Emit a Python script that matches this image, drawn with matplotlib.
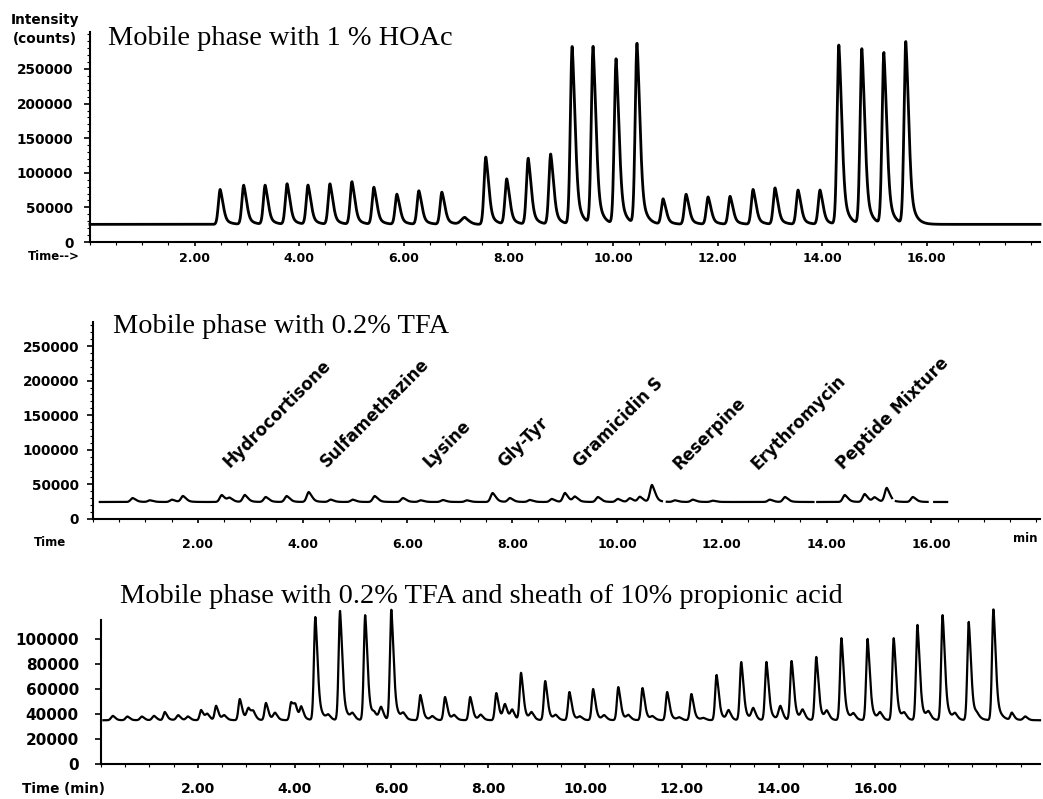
import matplotlib
matplotlib.use('Agg')
import matplotlib.pyplot as plt
import numpy as np

W, H = 1043, 799

# ---- panel 1: mobile phase with 1 % HOAc ----
hoac_rt = [2.49, 2.94, 3.35, 3.77, 4.17, 4.59, 5.01, 5.43, 5.87, 6.29, 6.73,
           7.57, 7.97, 8.38, 8.81, 9.22, 9.62, 10.06, 10.46, 10.96, 11.40,
           11.82, 12.24, 12.68, 13.10, 13.54, 13.96, 14.32, 14.76, 15.18, 15.60]
hoac_height = [76000, 82000, 82000, 84000, 82000, 84000, 87000, 79000, 69000,
               74000, 72000, 123000, 91000, 121000, 127000, 283000, 282000,
               265000, 287000, 62000, 69000, 65000, 66000, 76000, 78000, 75000,
               75000, 285000, 279000, 273000, 289000]
hoac_bump_rt = [7.17]
hoac_bump_height = [10000]
hoac_base = 25500

# ---- panel 2: mobile phase with 0.2% TFA ----
tfa_rt = [0.76, 1.09, 1.51, 1.72, 2.46, 2.61, 2.90, 3.30, 3.70, 4.12, 4.54,
          4.96, 5.38, 5.92, 6.26, 6.68, 7.14, 7.63, 7.96, 8.34, 8.76, 9.01,
          9.20, 9.64, 10.02, 10.25, 10.44, 10.67, 11.11, 11.45, 11.83, 12.92,
          13.21, 14.35, 14.73, 14.92, 15.15, 15.65]
tfa_height = [30300, 27000, 28000, 33200, 34700, 30000, 34700, 31800, 33200,
              39000, 28000, 28000, 33200, 30300, 27000, 27500, 27000, 37600,
              30300, 27500, 29000, 37600, 32000, 31800, 29000, 30000, 32000,
              49100, 27000, 28000, 26500, 28000, 31800, 34700, 36100, 31000,
              44800, 31800]
tfa_base = 24600
tfa_gaps = [(10.86, 10.95), (13.75, 13.82), (15.25, 15.32), (15.93, 16.05)]
tfa_end = 16.3

compounds = ['Hydrocortisone', 'Sulfamethazine', 'Lysine', 'Gly-Tyr',
             'Gramicidin S', 'Reserpine', 'Erythromycin', 'Peptide Mixture']
compound_px = [(230, 468), (327, 468), (430, 468), (504, 468),
               (580, 468), (680, 470), (758, 470), (843, 470)]

# ---- panel 3: 0.2% TFA + sheath of 10% propionic acid ----
prop_rt = [1.32, 2.07, 2.38, 2.87, 3.41, 3.93, 4.14, 4.43, 4.94, 5.46, 6.00,
           6.60, 7.11, 7.63, 8.17, 8.68, 9.18, 9.68, 10.17, 10.69, 11.19,
           11.70, 12.20, 12.72, 13.23, 13.75, 14.27, 14.78, 15.30, 15.84,
           16.38, 16.87, 17.39, 17.93, 18.44, 18.82]
prop_height = [41600, 43200, 46400, 52000, 48800, 48800, 44800, 117600,
               122400, 119200, 123200, 55200, 53600, 53600, 56800, 72800,
               66400, 57600, 60000, 61600, 60800, 57600, 56000, 71200, 81600,
               81600, 82400, 85600, 100800, 100000, 100800, 111200, 119200,
               113600, 124000, 40800]
prop_minor_rt = [0.25, 0.55, 0.85, 1.10, 1.60, 1.80, 2.20, 2.55, 3.05, 3.15,
                 3.60, 4.02, 4.70, 5.20, 5.65, 5.79, 6.25, 6.85, 7.30, 7.85,
                 8.35, 8.50, 8.90, 9.40, 9.90, 10.40, 10.90, 11.40, 11.95,
                 12.45, 12.97, 13.48, 14.04, 14.50, 15.00, 15.55, 16.10,
                 16.60, 17.10, 17.65, 18.10, 19.10]
prop_minor_height = [38500, 38000, 38000, 38500, 39000, 38000, 39500, 38500,
                     44000, 41000, 40500, 45000, 38500, 39500, 38500, 45000,
                     39500, 38000, 38500, 39000, 47000, 43000, 40500, 38500,
                     37500, 38500, 38500, 37500, 37000, 36500, 42500, 44000,
                     46000, 42500, 41500, 39500, 40500, 39500, 40500, 39500,
                     37500, 38000]
prop_base = 35000


def trace(t, base, rts, heights, wl, wr, tau):
    # sharp front, tailing back - one term per peak
    y = np.full_like(t, float(base))
    for rt, h in zip(rts, heights):
        d = t - rt
        left = np.exp(-0.5 * (d / wl) ** 2)
        dp = np.clip(d, 0, None)
        right = 0.55 * np.exp(-0.5 * (dp / wr) ** 2) + 0.45 * np.exp(-dp / tau)
        y += (h - base) * np.where(d < 0, left, right)
    return y


def px_rect(left, right, top, bottom):
    return [left / W, 1 - bottom / H, (right - left) / W, (bottom - top) / H]


def ftext(x, y, s, **kw):
    fig.text(x / W, 1 - y / H, s, **kw)


def style(ax, xmax, ymax, yticks, xpad, ypad, fs, yminor=None):
    for side in ['top', 'right']:
        ax.spines[side].set_visible(False)
    for side in ['left', 'bottom']:
        ax.spines[side].set_linewidth(1.5)
    ax.set_xlim(0, xmax)
    ax.set_ylim(0, ymax)
    ax.set_xticks(np.arange(2, 17, 2), [f'{v:.2f}' for v in np.arange(2, 17, 2)])
    ax.set_xticks(np.arange(0, xmax, 0.5), minor=True)
    ax.set_yticks(yticks, [str(v) for v in yticks])
    if yminor is not None:
        ax.set_yticks(yminor, minor=True)
    ax.tick_params(axis='x', which='major', length=3, width=1.2, pad=xpad)
    ax.tick_params(axis='y', which='major', length=4, width=1.2, pad=ypad)
    ax.tick_params(which='minor', length=2, width=0.8)
    for lab in ax.get_yticklabels():
        lab.set_fontfamily('DejaVu Sans')
        lab.set_fontweight('bold')
        lab.set_fontsize(fs)
    for lab in ax.get_xticklabels():
        lab.set_fontfamily('DejaVu Sans')
        lab.set_fontweight('bold')
        lab.set_fontsize(fs * 0.92)
    ax.patch.set_alpha(0)


fig = plt.figure(figsize=(W / 100, H / 100), dpi=100)
serif = ['Liberation Serif', 'DejaVu Serif']
title_fs = 20.4

# panel 1
ax1 = fig.add_axes(px_rect(90, 1040, 32, 242))
x1max = (1040 - 90) / 52.3
t1 = np.linspace(0, x1max, 4000)
y1 = trace(t1, hoac_base, hoac_rt, hoac_height, 0.035, 0.055, 0.09)
y1 += trace(t1, 0, hoac_bump_rt, hoac_bump_height, 0.07, 0.09, 0.06)
ax1.plot(t1, y1, color='black', lw=2.0, clip_on=False)
style(ax1, x1max, (242 - 32) / 34.6 * 50000, list(range(0, 250001, 50000)),
      4, 8, 9.8, yminor=np.arange(0, 300001, 10000))
ftext(108, 45, 'Mobile phase with 1 % HOAc', family=serif, fontsize=title_fs,
      va='baseline')
ftext(45, 20, 'Intensity', family='DejaVu Sans', weight='bold', fontsize=9.8,
      ha='center', va='center')
ftext(45, 39, '(counts)', family='DejaVu Sans', weight='bold', fontsize=9.8,
      ha='center', va='center')
ftext(54, 257, 'Time-->', family='DejaVu Sans', weight='bold', fontsize=8.5,
      ha='center', va='center')

# panel 2
ax2 = fig.add_axes(px_rect(93, 1040, 322, 519))
x2max = (1040 - 93) / 52.4
t2 = np.linspace(0.13, tfa_end, 4000)
y2 = trace(t2, tfa_base, tfa_rt, tfa_height, 0.04, 0.06, 0.08)
for g0, g1 in tfa_gaps:
    y2[(t2 > g0) & (t2 < g1)] = np.nan
ax2.plot(t2, y2, color='black', lw=1.6)
style(ax2, x2max, (519 - 322) / 34.6 * 50000, list(range(0, 250001, 50000)),
      11, 6, 9.8, yminor=np.arange(0, 280001, 10000))
ftext(113, 333, 'Mobile phase with 0.2% TFA', family=serif, fontsize=title_fs,
      va='baseline')
ftext(50, 543, 'Time', family='DejaVu Sans', weight='bold', fontsize=8.5,
      ha='center', va='center')
ftext(1025, 538, 'min', family='DejaVu Sans', weight='bold', fontsize=8.5,
      ha='center', va='center')
for name, (px, py) in zip(compounds, compound_px):
    ftext(px, py, name, family='DejaVu Sans', weight='bold', fontsize=12,
          rotation=45, rotation_mode='anchor', ha='left', va='baseline')

# panel 3
ax3 = fig.add_axes(px_rect(101, 1040, 620, 764))
x3max = (1040 - 101) / 48.4
t3 = np.linspace(0.05, x3max, 5000)
y3 = trace(t3, prop_base, prop_rt, prop_height, 0.03, 0.045, 0.08)
y3 += trace(t3, 0, prop_minor_rt,
            [h - prop_base for h in prop_minor_height], 0.04, 0.05, 0.06)
ax3.plot(t3, y3, color='black', lw=1.6, clip_on=False)
style(ax3, x3max, (764 - 620) / 25 * 20000, list(range(0, 100001, 20000)),
      10, 12, 11)
ftext(120, 603, 'Mobile phase with 0.2% TFA and sheath of 10% propionic acid',
      family=serif, fontsize=title_fs, va='baseline')
ftext(63, 789, 'Time (min)', family='DejaVu Sans', weight='bold', fontsize=9.8,
      ha='center', va='center')

fig.savefig('out.png', dpi=100)
